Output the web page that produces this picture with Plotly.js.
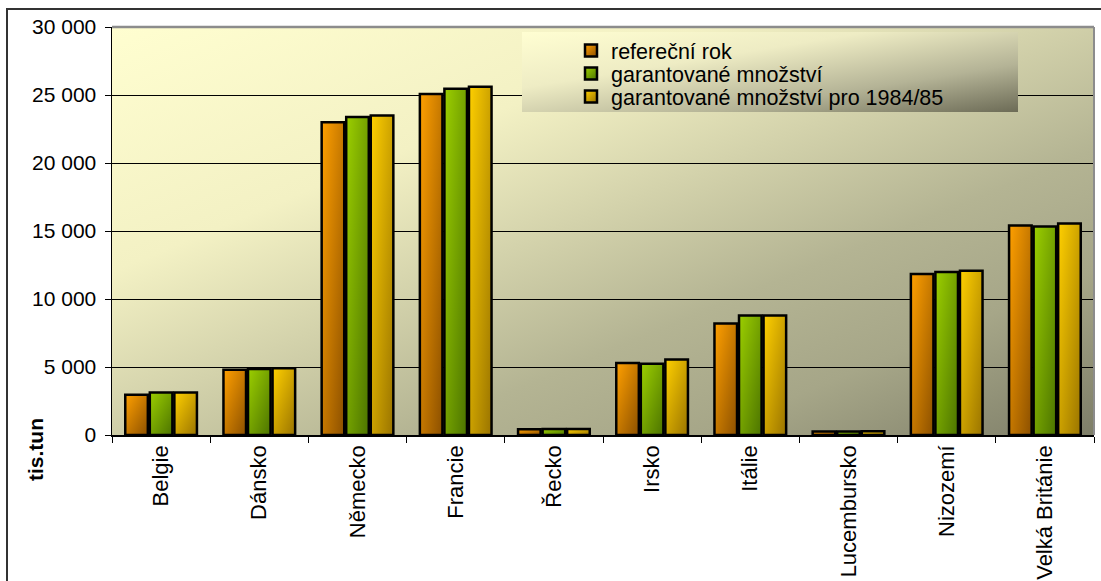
<!DOCTYPE html>
<html>
<head>
<meta charset="utf-8">
<script src="https://cdn.plot.ly/plotly-3.0.1.min.js"></script>
<style>
  html, body { margin: 0; padding: 0; background: #fff; }
  #chart { width: 1101px; height: 581px; }
</style>
</head>
<body>
<div id="chart"></div>
<script>
const countries = ['Belgie', 'Dánsko', 'Německo', 'Francie', 'Řecko', 'Irsko', 'Itálie', 'Lucembursko', 'Nizozemí', 'Velká Británie'];
const refYear = [2960, 4800, 23000, 25070, 420, 5290, 8200, 260, 11840, 15410];
const guaranteed = [3130, 4850, 23380, 25460, 440, 5240, 8790, 260, 11990, 15340];
const guaranteed8485 = [3130, 4900, 23500, 25610, 450, 5560, 8790, 270, 12080, 15560];
const seriesNames = ['refereční rok', 'garantované množství', 'garantované množství pro 1984/85'];
const yTicks = [0, 5000, 10000, 15000, 20000, 25000, 30000];

// solid fallbacks + gradient ends (light top-left, dark bottom-right)
const solid = ['#e08400', '#7aab00', '#e0b000'];
const grads = [['#ffa000', '#8c5000'], ['#9ccf00', '#4c7400'], ['#ffd000', '#9a7400']];

function gradUri(stops) {
  const s = stops.map(st => `<stop offset="${st[0]}" stop-color="${st[1]}"/>`).join('');
  const svg = `<svg xmlns="http://www.w3.org/2000/svg" width="100" height="100" preserveAspectRatio="none">` +
    `<defs><linearGradient id="g" x1="0" y1="0" x2="1" y2="1">${s}</linearGradient></defs>` +
    `<rect width="100" height="100" fill="url(#g)"/></svg>`;
  return 'data:image/svg+xml;charset=utf-8,' + encodeURIComponent(svg);
}

const plotBg = gradUri([[0, '#fffed0'], [0.3, '#f3f1c4'], [0.65, '#b4b493'], [0.8, '#a6a688'], [1, '#7e7e68']]);
const legendBg = gradUri([[0, '#fffed2'], [0.35, '#eeecc4'], [0.7, '#b4b396'], [1, '#6c6b56']]);

const allValues = [refYear, guaranteed, guaranteed8485];
const traces = allValues.map((vals, i) => ({
  type: 'bar',
  name: seriesNames[i],
  x: countries,
  y: vals,
  marker: { color: solid[i], line: { color: '#000', width: 2.5 } },
  hoverinfo: 'x+y+name'
}));

const W = 1101, H = 581, L = 112, R = 7, T = 27, B = 146;
const pw = W - L - R, ph = H - T - B;
const px = x => (x - L) / pw;
const py = y => (H - B - y) / ph;

const layout = {
  width: W, height: H,
  margin: { l: L, r: R, t: T, b: B },
  paper_bgcolor: '#ffffff',
  plot_bgcolor: 'rgba(0,0,0,0)',
  separators: ', ',
  font: { family: 'Liberation Sans, Arial, sans-serif', size: 21, color: '#000' },
  barmode: 'group',
  bargap: 0.25,
  bargroupgap: 0.08,
  showlegend: true,
  legend: {
    x: px(571), xanchor: 'left', y: py(30), yanchor: 'top',
    bgcolor: 'rgba(0,0,0,0)', borderwidth: 0,
    font: { size: 21.5, color: '#000' }
  },
  xaxis: {
    type: 'category',
    tickangle: -90,
    ticks: 'outside', ticklen: 6, tickcolor: '#000', tickwidth: 1,
    tickson: 'boundaries',
    showline: true, linecolor: '#000', linewidth: 1.5,
    showgrid: false,
    tickfont: { size: 22, color: '#000' }
  },
  yaxis: {
    range: [0, 30000],
    tickvals: yTicks,
    tickformat: ',d',
    ticks: 'outside', ticklen: 6, tickcolor: '#000', tickwidth: 1,
    ticklabelstandoff: 4,
    showline: true, linecolor: '#000', linewidth: 1.5,
    showgrid: true, gridcolor: '#000', gridwidth: 1,
    zeroline: false,
    tickfont: { size: 21, color: '#000' }
  },
  images: [
    { source: plotBg, xref: 'paper', yref: 'paper', x: 0, y: 1, sizex: 1, sizey: 1,
      xanchor: 'left', yanchor: 'top', sizing: 'stretch', layer: 'below' },
    { source: legendBg, xref: 'paper', yref: 'paper', x: px(522), y: py(32), sizex: (1018 - 522) / pw, sizey: 80 / ph,
      xanchor: 'left', yanchor: 'top', sizing: 'stretch', layer: 'above' }
  ],
  shapes: [
    // outer chart frame
    { type: 'rect', xref: 'paper', yref: 'paper', x0: px(7), x1: px(1120), y0: py(620), y1: py(9),
      line: { color: '#333', width: 2 }, fillcolor: 'rgba(0,0,0,0)', layer: 'above' },
    // plot area top and right edge
    { type: 'line', xref: 'paper', yref: 'paper', x0: 0, x1: 1, y0: 1, y1: 1, line: { color: '#8c8c8c', width: 2.5 }, layer: 'above' },
    { type: 'line', xref: 'paper', yref: 'paper', x0: 1, x1: 1, y0: 0, y1: 1, line: { color: '#8c8c8c', width: 2 }, layer: 'above' }
  ],
  annotations: [
    { text: '<b>tis.tun</b>', xref: 'paper', yref: 'paper', x: px(35), y: py(450),
      textangle: -90, showarrow: false, xanchor: 'center', yanchor: 'middle',
      font: { size: 21, color: '#000' } }
  ]
};

Plotly.newPlot('chart', traces, layout, { displayModeBar: false, staticPlot: true }).then(gd => {
  // bar gradients: add defs and point fills at them
  const svg = gd.querySelector('.main-svg');
  let defs = svg.querySelector('defs');
  const NS = 'http://www.w3.org/2000/svg';
  grads.forEach((g, i) => {
    const lg = document.createElementNS(NS, 'linearGradient');
    lg.setAttribute('id', 'barGrad' + i);
    lg.setAttribute('x1', '0'); lg.setAttribute('y1', '0');
    lg.setAttribute('x2', '1'); lg.setAttribute('y2', '1');
    [[0, g[0]], [1, g[1]]].forEach(([o, c]) => {
      const st = document.createElementNS(NS, 'stop');
      st.setAttribute('offset', o);
      st.setAttribute('stop-color', c);
      lg.appendChild(st);
    });
    defs.appendChild(lg);
  });
  gd.querySelectorAll('.barlayer .trace').forEach((tr, i) => {
    tr.querySelectorAll('.point path').forEach(p => { p.style.fill = `url(#barGrad${i})`; });
  });
  const items = gd.querySelectorAll('.legend .traces');
  let y0 = null;
  items.forEach((it, i) => {
    it.querySelectorAll('.legendpoints path').forEach(p => { p.style.fill = `url(#barGrad${i})`; });
    const m = /translate\(([-\d.]+),\s*([-\d.]+)\)/.exec(it.getAttribute('transform') || '');
    if (m) {
      if (y0 === null) y0 = parseFloat(m[2]);
      it.setAttribute('transform', `translate(${m[1]},${y0 + i * 23})`);
    }
  });
});
</script>
</body>
</html>
